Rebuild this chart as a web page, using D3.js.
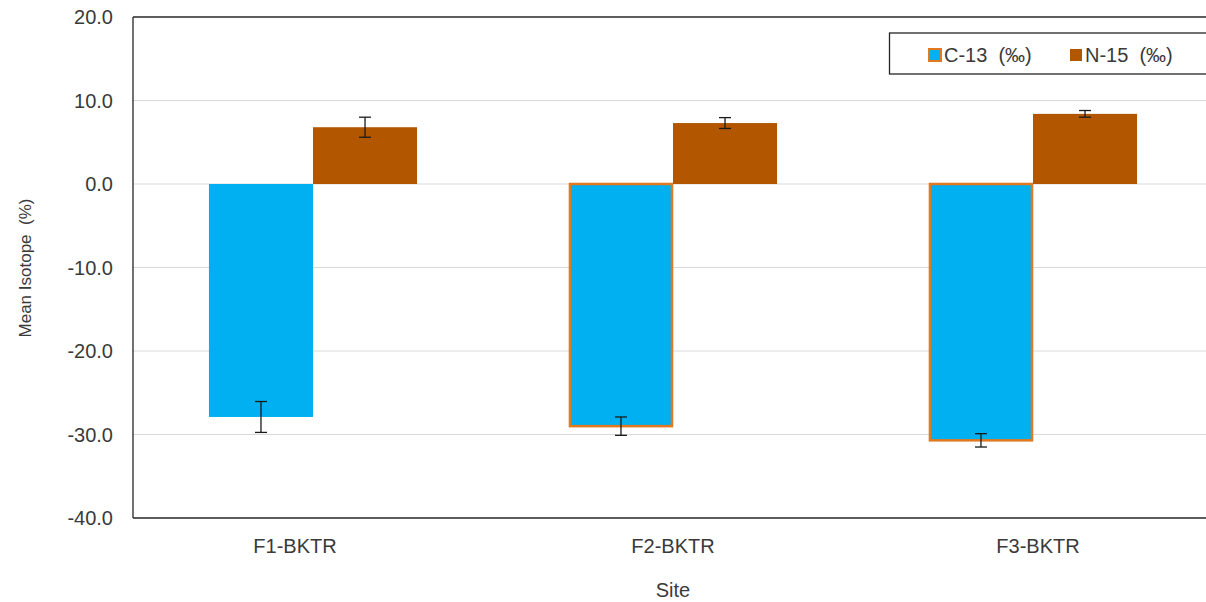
<!DOCTYPE html>
<html lang="en">
<head>
  <meta charset="UTF-8">
  <title>isotope bar chart</title>
  <style>
    body { margin: 0; background: #fff; }
    text { font-family: "Liberation Sans", Arial, sans-serif; fill: #3a3a3a; }
  </style>
</head>
<body>
  <script src="https://cdn.jsdelivr.net/npm/d3@7/dist/d3.min.js"></script>
  <script type="text/javascript">
    // 数据
    var sites = ["F1-BKTR", "F2-BKTR", "F3-BKTR"];
    var seriesNames = ["C-13  (\u2030)", "N-15  (\u2030)"];
    var c13 = [-27.9, -29.0, -30.7];
    var c13Err = [1.85, 1.1, 0.8];
    var n15 = [6.8, 7.3, 8.4];
    var n15Err = [1.2, 0.65, 0.4];
    var yTicks = [20, 10, 0, -10, -20, -30, -40];

    var width = 1206, height = 602;
    var margin = {top: 17, right: -7, bottom: 84, left: 133};
    var colors = ["#00B0F0", "#B35600"];
    var labelShift = [-18, 0, 5];

    var svg = d3.select("body").append("svg")
      .attr("width", width)
      .attr("height", height);

    var x0 = d3.scaleBand()
      .domain(sites)
      .range([margin.left, width - margin.right])
      .padding(0);

    var x1 = d3.scaleBand()
      .domain([0, 1])
      .range([0, x0.bandwidth()])
      .paddingOuter(0.73)
      .paddingInner(0);

    var y = d3.scaleLinear()
      .domain([-40, 20])
      .range([height - margin.bottom, margin.top]);

    // 网格线
    svg.append("g").selectAll("line")
      .data(yTicks.filter(function(d){ return d !== 20 && d !== -40; }))
      .enter().append("line")
      .attr("x1", margin.left).attr("x2", width)
      .attr("y1", function(d){ return y(d); })
      .attr("y2", function(d){ return y(d); })
      .attr("stroke", "#d9d9d9").attr("stroke-width", 1);

    var rows = sites.map(function(s, i) {
      return [
        {site: s, k: 0, v: c13[i], e: c13Err[i], border: i > 0},
        {site: s, k: 1, v: n15[i], e: n15Err[i], border: false}
      ];
    });
    var data = [].concat.apply([], rows);

    svg.append("g").selectAll("rect")
      .data(data)
      .enter().append("rect")
      .attr("x", function(d){ return x0(d.site) + x1(d.k) + (d.border ? 1 : 0); })
      .attr("y", function(d){ return Math.min(y(d.v), y(0)); })
      .attr("width", function(d){ return x1.bandwidth() - (d.border ? 2 : 0); })
      .attr("height", function(d){ return Math.abs(y(d.v) - y(0)); })
      .attr("fill", function(d){ return colors[d.k]; })
      .attr("stroke", function(d){ return d.border ? "#E2791F" : "none"; })
      .attr("stroke-width", 2.5);

    // 误差线
    var eg = svg.append("g").attr("stroke", "#1a1a1a").attr("stroke-width", 1.3);
    data.forEach(function(d) {
      var cx = x0(d.site) + x1(d.k) + x1.bandwidth() / 2;
      eg.append("line").attr("x1", cx).attr("x2", cx)
        .attr("y1", y(d.v + d.e)).attr("y2", y(d.v - d.e));
      [d.v + d.e, d.v - d.e].forEach(function(t) {
        eg.append("line").attr("x1", cx - 6).attr("x2", cx + 6)
          .attr("y1", y(t)).attr("y2", y(t));
      });
    });

    // 坐标框
    var frame = svg.append("g").attr("stroke", "#262626").attr("stroke-width", 1.3).attr("fill", "none");
    frame.append("line").attr("x1", margin.left).attr("x2", margin.left)
      .attr("y1", y(20)).attr("y2", y(-40));
    frame.append("line").attr("x1", margin.left).attr("x2", width)
      .attr("y1", y(20)).attr("y2", y(20));
    frame.append("line").attr("x1", margin.left).attr("x2", width)
      .attr("y1", y(-40)).attr("y2", y(-40));

    // y 轴刻度
    svg.append("g").selectAll("text")
      .data(yTicks)
      .enter().append("text")
      .attr("x", 113)
      .attr("y", function(d){ return y(d); })
      .attr("dy", "0.35em")
      .attr("text-anchor", "end")
      .attr("font-size", "20px")
      .text(function(d){ return d.toFixed(1); });

    // x 轴标签
    svg.append("g").selectAll("text")
      .data(sites)
      .enter().append("text")
      .attr("x", function(d, i){ return x0(d) + x0.bandwidth() / 2 + labelShift[i]; })
      .attr("y", 553)
      .attr("text-anchor", "middle")
      .attr("font-size", "20px")
      .text(function(d){ return d; });

    svg.append("text")
      .attr("x", 673).attr("y", 597)
      .attr("text-anchor", "middle")
      .attr("font-size", "20px")
      .text("Site");

    svg.append("text")
      .attr("transform", "translate(31," + 268 + ") rotate(-90)")
      .attr("text-anchor", "middle")
      .attr("font-size", "17px")
      .attr("xml:space", "preserve")
      .style("white-space", "pre")
      .text("Mean Isotope  (%)");

    // 图例
    var lg = svg.append("g");
    lg.append("rect")
      .attr("x", 889.5).attr("y", 33).attr("width", 330).attr("height", 41)
      .attr("fill", "#fff").attr("stroke", "#262626").attr("stroke-width", 1.3);
    var lx = [929, 1070];
    seriesNames.forEach(function(name, i) {
      lg.append("rect")
        .attr("x", lx[i]).attr("y", 49).attr("width", 12).attr("height", 12)
        .attr("fill", colors[i])
        .attr("stroke", i === 0 ? "#E2791F" : "none").attr("stroke-width", 2);
      lg.append("text")
        .attr("x", lx[i] + 15).attr("y", 62)
        .attr("font-size", "20px")
        .attr("xml:space", "preserve")
        .style("white-space", "pre")
        .text(name);
    });
  </script>
</body>
</html>
